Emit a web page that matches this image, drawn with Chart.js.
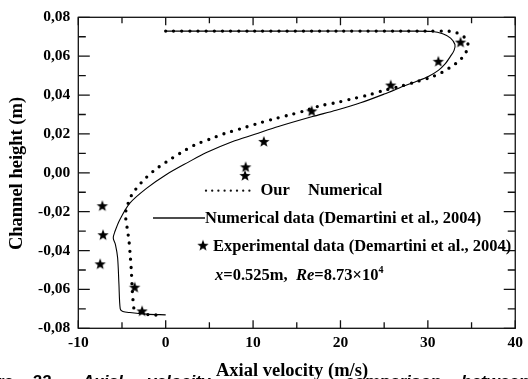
<!DOCTYPE html>
<html>
<head>
<meta charset="utf-8">
<script src="https://cdn.jsdelivr.net/npm/chart.js@4/dist/chart.umd.min.js"></script>
<style>
html,body{margin:0;padding:0;background:#fff;}
canvas{display:block;}
</style>
</head>
<body>
<canvas id="c" width="528" height="379"></canvas>
<script>
// ---- data ----
const ourX = [0, 10, 20, 30, 32.0, 33.0, 33.8, 34.4, 34.6, 34.2, 33.5, 32.7, 31.6, 30.3, 28.5, 26.7, 24.9, 23.1, 21.2, 19.4, 17.6, 15.9, 14.1, 12.3, 10.4, 8.6, 6.8, 5.1, 3.4, 1.7, 0.1, -1.4, -2.8, -3.9, -4.5, -4.6, -4.4, -4.2, -4.05, -3.93, -3.85, -3.75, -3.6, -2.8, -1.9, -0.2];
const ourY = [0.0729, 0.0729, 0.0729, 0.0729, 0.0729, 0.0725, 0.0709, 0.0687, 0.0650, 0.0608, 0.0573, 0.0547, 0.0516, 0.0491, 0.0466, 0.0443, 0.0423, 0.0399, 0.0379, 0.0360, 0.0344, 0.0319, 0.0297, 0.0276, 0.0252, 0.0227, 0.0203, 0.0174, 0.0145, 0.0102, 0.0057, 0.0009, -0.0051, -0.0115, -0.0185, -0.0219, -0.0287, -0.0350, -0.0430, -0.0505, -0.0580, -0.0650, -0.0700, -0.0722, -0.0730, -0.0732];

const demX = [0, 15, 28, 30.5, 31.7, 32.6, 33.1, 33.0, 32.6, 32.0, 31.2, 30.1, 28.8, 27.2, 25.0, 22.3, 19.5, 16.7, 12.9, 10.2, 7.6, 4.6, 2.6, 0.0, -2.2, -4.1, -5.25, -5.8, -6.0, -5.75, -5.5, -5.35, -5.2, -4.9, -4.1, -2.2, 0];
const demY = [0.0729, 0.0729, 0.0729, 0.0727, 0.0715, 0.0693, 0.0660, 0.0630, 0.0600, 0.0562, 0.0527, 0.0497, 0.0472, 0.0445, 0.0405, 0.0360, 0.0322, 0.0288, 0.0238, 0.0198, 0.0160, 0.0103, 0.0055, -0.0011, -0.0080, -0.0156, -0.0241, -0.0301, -0.0335, -0.0369, -0.0437, -0.0573, -0.0700, -0.0713, -0.0719, -0.0727, -0.0731];

const expX = [33.74, 31.2, 25.75, 16.7, 11.23, 9.15, 9.08, -7.25, -7.17, -7.5, -3.55, -2.7];
const expY = [0.0670, 0.0571, 0.0449, 0.0316, 0.0159, 0.0028, -0.0016, -0.0172, -0.0321, -0.0471, -0.0591, -0.0713];

const xMajorTicks = [-10, 0, 10, 20, 30, 40];
const xMinorTicks = [-5, 5, 15, 25, 35];
const yMajorTicks = [-0.08, -0.06, -0.04, -0.02, 0, 0.02, 0.04, 0.06, 0.08];
const yMinorTicks = [-0.07, -0.05, -0.03, -0.01, 0.01, 0.03, 0.05, 0.07];

const seriesNames = ['Our    Numerical', 'Numerical data (Demartini et al., 2004)', 'Experimental data (Demartini et al., 2004)'];
const xTitle = 'Axial velocity (m/s)';
const yTitle = 'Channel height (m)';
const captionWords = ['Figure', '22', 'Axial', 'velocity', 'comparison', 'between'];

// ---- helpers ----
const SERIF = "'Liberation Serif', 'Times New Roman', serif";
function makeStar(r) {
  const s = Math.ceil(r * 2 + 2);
  const c = document.createElement('canvas');
  c.width = s; c.height = s;
  const g = c.getContext('2d');
  g.fillStyle = '#000';
  g.beginPath();
  for (let i = 0; i < 10; i++) {
    const rad = i % 2 ? r * 0.42 : r;
    const a = -Math.PI / 2 + i * Math.PI / 5;
    g.lineTo(s / 2 + rad * Math.cos(a), s / 2 + rad * Math.sin(a));
  }
  g.closePath();
  g.fill();
  return c;
}
const star = makeStar(6);
const zip = (xs, ys) => xs.map((v, i) => ({x: v, y: ys[i]}));

const decor = {
  id: 'decor',
  afterDraw(chart) {
    const {ctx, chartArea: a, scales: {x, y}} = chart;
    ctx.save();
    ctx.strokeStyle = '#111';
    ctx.lineWidth = 1.3;
    ctx.strokeRect(a.left, a.top, a.right - a.left, a.bottom - a.top);
    ctx.beginPath();
    const xt = (v, len) => {
      const p = x.getPixelForValue(v);
      ctx.moveTo(p, a.bottom); ctx.lineTo(p, a.bottom - len);
      ctx.moveTo(p, a.top); ctx.lineTo(p, a.top + len);
    };
    const yt = (v, len) => {
      const p = y.getPixelForValue(v);
      ctx.moveTo(a.left, p); ctx.lineTo(a.left + len, p);
      ctx.moveTo(a.right, p); ctx.lineTo(a.right - len, p);
    };
    xMajorTicks.forEach(v => xt(v, 8));
    xMinorTicks.forEach(v => xt(v, 6));
    yMajorTicks.forEach(v => yt(v, 11.5));
    yMinorTicks.forEach(v => yt(v, 7.5));
    ctx.stroke();

    // legend
    ctx.fillStyle = '#000';
    ctx.font = 'bold 16.5px ' + SERIF;
    ctx.textBaseline = 'alphabetic';
    ctx.textAlign = 'left';
    ctx.save();
    ctx.lineWidth = 2.3; ctx.lineCap = 'round'; ctx.setLineDash([0, 6.2]);
    ctx.beginPath(); ctx.moveTo(206, 190.7); ctx.lineTo(252, 190.7); ctx.stroke();
    ctx.restore();
    ctx.fillText('Our', 260.5, 194.5);
    ctx.fillText('Numerical', 308, 194.5);
    ctx.lineWidth = 1.6;
    ctx.beginPath(); ctx.moveTo(153, 218); ctx.lineTo(205, 218); ctx.stroke();
    ctx.fillText(seriesNames[1], 205, 222.5);
    ctx.drawImage(star, 203 - star.width / 2, 245.7 - star.height / 2);
    ctx.fillText(seriesNames[2], 213, 250.5);
    let px = 215; const by = 279.5;
    const seg = (t, font, dy) => { ctx.font = font; ctx.fillText(t, px, by + (dy || 0)); px += ctx.measureText(t).width; };
    seg('x', 'italic bold 16.5px ' + SERIF);
    seg('=0.525m,  ', 'bold 16.5px ' + SERIF);
    seg('Re', 'italic bold 16.5px ' + SERIF);
    seg('=8.73\u00d710', 'bold 16.5px ' + SERIF);
    seg('4', 'bold 10px ' + SERIF, -7);

    // axis titles
    ctx.font = 'bold 18.5px ' + SERIF;
    ctx.textAlign = 'center';
    ctx.fillText(xTitle, 292, 376);
    ctx.save();
    ctx.translate(21.5, 173.5);
    ctx.rotate(-Math.PI / 2);
    ctx.fillText(yTitle, 0, 0);
    ctx.restore();

    // cropped caption
    ctx.font = 'italic bold 17px "Liberation Sans", Arial, sans-serif';
    const cy = 386.5;
    ctx.textAlign = 'right';
    ctx.fillText(captionWords[0], 13, cy);
    ctx.textAlign = 'left';
    ctx.fillText(captionWords[1], 32, cy);
    ctx.fillText(captionWords[2], 82, cy);
    ctx.fillText(captionWords[3], 147, cy);
    ctx.textAlign = 'right';
    ctx.fillText(captionWords[4], 441, cy);
    ctx.textAlign = 'left';
    ctx.fillText(captionWords[5], 461, cy);
    ctx.restore();
  }
};

const tickFont = {family: SERIF, weight: 'bold', size: 15.5};

new Chart(document.getElementById('c'), {
  type: 'scatter',
  data: {
    datasets: [
      {
        label: seriesNames[0],
        data: zip(ourX, ourY),
        showLine: true,
        borderColor: '#000',
        borderWidth: 3.3,
        borderDash: [0, 8.1],
        borderCapStyle: 'round',
        tension: 0.3,
        pointRadius: 0,
        fill: false
      },
      {
        label: seriesNames[1],
        data: zip(demX, demY),
        showLine: true,
        borderColor: '#000',
        borderWidth: 1.1,
        tension: 0.3,
        pointRadius: 0,
        fill: false
      },
      {
        label: seriesNames[2],
        data: zip(expX, expY),
        showLine: false,
        pointStyle: star,
        pointRadius: 6,
        backgroundColor: '#000',
        borderColor: '#000'
      }
    ]
  },
  options: {
    responsive: false,
    animation: false,
    devicePixelRatio: 1,
    layout: {padding: {top: 14, right: 8.7, left: 0, bottom: 0}},
    plugins: {legend: {display: false}, tooltip: {enabled: false}},
    scales: {
      x: {
        type: 'linear', min: -10, max: 40,
        afterBuildTicks: s => { s.ticks = xMajorTicks.map(v => ({value: v})); },
        ticks: {font: tickFont, color: '#000', padding: 5, maxRotation: 0},
        grid: {display: false, drawTicks: false},
        border: {display: false},
        afterFit: s => { s.height = 379 - 328.3; }
      },
      y: {
        type: 'linear', min: -0.08, max: 0.08,
        afterBuildTicks: s => { s.ticks = yMajorTicks.map(v => ({value: v})); },
        ticks: {
          font: tickFont, color: '#000', padding: 8,
          callback: v => (Math.abs(v) < 1e-9 ? 0 : v).toFixed(2).replace('.', ',')
        },
        grid: {display: false, drawTicks: false},
        border: {display: false},
        afterFit: s => { s.width = 78.3; }
      }
    }
  },
  plugins: [decor]
});
</script>
</body>
</html>
